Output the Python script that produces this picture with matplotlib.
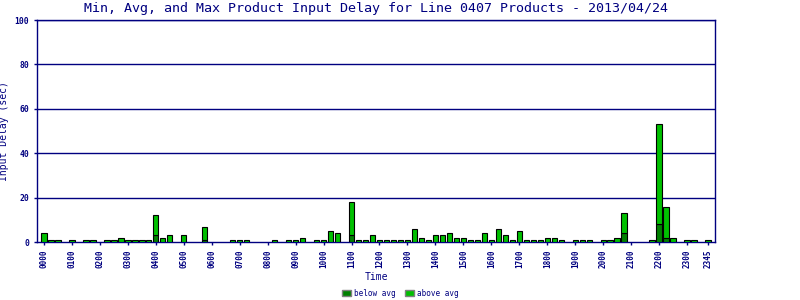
import matplotlib

matplotlib.use("Agg")
import matplotlib.pyplot as plt
import numpy as np
from matplotlib.patches import Patch

# ── Data: 96 fifteen-minute slots, 0000 .. 2345 ──
max_delay = [
    4, 1, 1, 0, 1, 0, 1, 1, 0, 1, 1, 2, 1, 1, 1, 1,
    12, 2, 3, 0, 3, 0, 0, 7, 0, 0, 0, 1, 1, 1, 0, 0,
    0, 1, 0, 1, 1, 2, 0, 1, 1, 5, 4, 0, 18, 1, 1, 3,
    1, 1, 1, 1, 1, 6, 2, 1, 3, 3, 4, 2, 2, 1, 1, 4,
    1, 6, 3, 1, 5, 1, 1, 1, 2, 2, 1, 0, 1, 1, 1, 0,
    1, 1, 2, 13, 0, 0, 0, 1, 53, 16, 2, 0, 1, 1, 0, 1,
]
avg_delay = [0] * 96
for slot, val in {16: 3, 23: 1, 44: 3, 83: 4, 88: 8, 89: 2}.items():
    avg_delay[slot] = val

tick_slots = list(range(0, 96, 4)) + [95]
tick_labels = [f"{h:02d}00" for h in range(24)] + ["2345"]
y_ticks = [0, 20, 40, 60, 80, 100]

NAVY = "#000080"
DARK = "#008000"
LIGHT = "#00C000"
MONO = "DejaVu Sans Mono"

fig = plt.figure(figsize=(8, 3), dpi=100)
ax = fig.add_axes([0.046, 0.193, 0.848, 0.74])

mx = np.array(max_delay, dtype=float)
av = np.array(avg_delay, dtype=float)
slots = np.arange(len(mx))
has = mx > 0

ax.bar(slots[has], av[has], width=0.8, color=DARK, edgecolor="black",
       linewidth=0.8, zorder=3)
ax.bar(slots[has], (mx - av)[has], bottom=av[has], width=0.8, color=LIGHT,
       edgecolor="black", linewidth=0.8, zorder=3)

ax.set_xlim(-1, 96)
ax.set_ylim(0, 100)
for y in y_ticks[1:]:
    ax.axhline(y, color=NAVY, linewidth=1.0, zorder=1)

for side in ["left", "bottom", "right", "top"]:
    ax.spines[side].set_color(NAVY)
    ax.spines[side].set_linewidth(1.0)

ax.set_xticks(tick_slots)
ax.set_xticklabels(tick_labels, rotation=90, fontsize=5.5, family=MONO,
                   color=NAVY, fontweight="bold")
ax.set_yticks(y_ticks)
ax.set_yticklabels([str(v) for v in y_ticks], fontsize=5.8, family=MONO,
                   color=NAVY, fontweight="bold")
ax.tick_params(axis="both", colors=NAVY, length=2, width=1)

ax.set_xlabel("Time", fontsize=7, family=MONO, color=NAVY, labelpad=3)
ax.set_ylabel("Input Delay (sec)", fontsize=7, family=MONO, color=NAVY,
              labelpad=4)
fig.text(0.47, 0.972, "Min, Avg, and Max Product Input Delay for Line 0407 "
         "Products - 2013/04/24", ha="center", va="center", fontsize=9.6,
         family=MONO, color=NAVY)

handles = [Patch(facecolor=DARK, edgecolor="gray", label="below avg"),
           Patch(facecolor=LIGHT, edgecolor="gray", label="above avg")]
leg = fig.legend(handles=handles, loc="lower center", ncol=2,
                 bbox_to_anchor=(0.5, -0.015), frameon=False,
                 prop={"family": MONO, "size": 5.5}, handlelength=1.2,
                 handleheight=1.0, columnspacing=1.2, handletextpad=0.4)
for t in leg.get_texts():
    t.set_color(NAVY)

fig.savefig("out.png", dpi=100)
